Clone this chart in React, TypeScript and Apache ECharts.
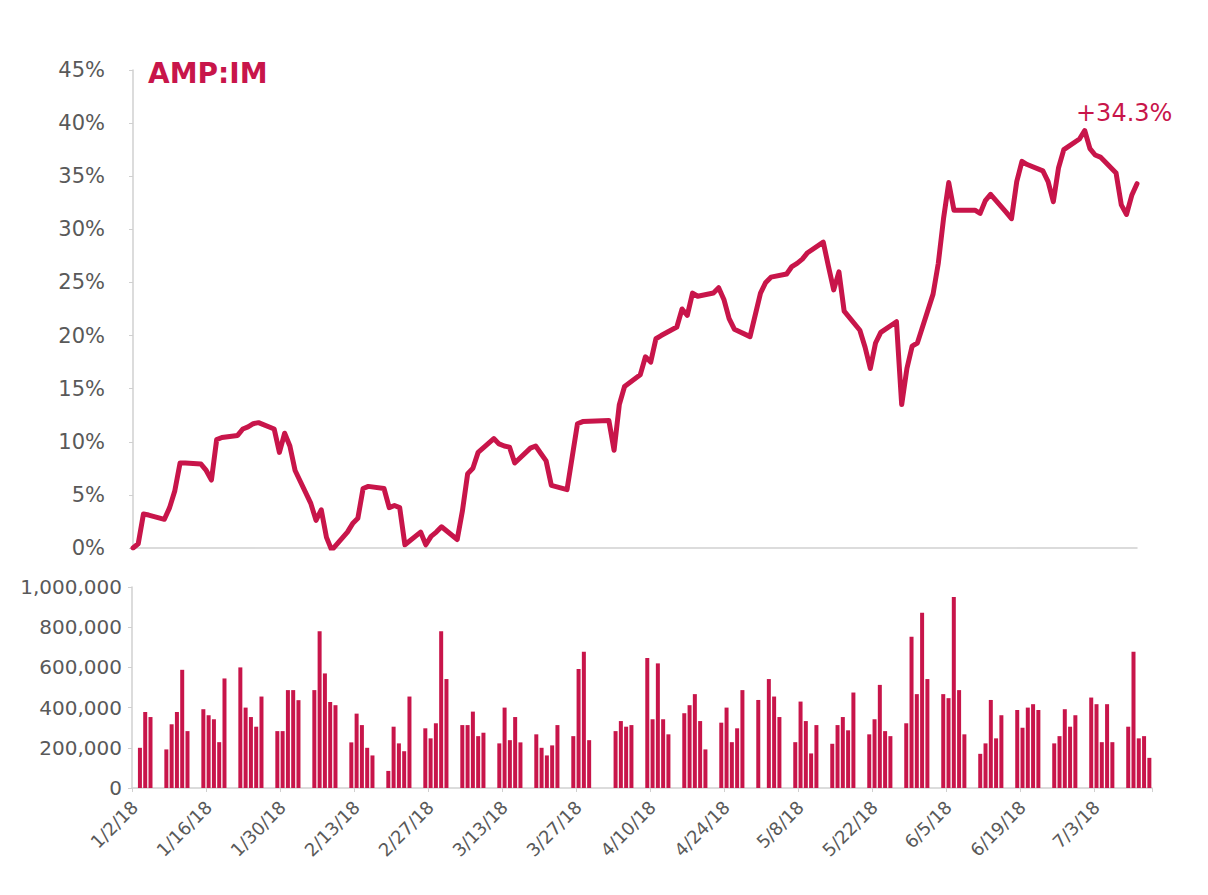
import React, { useEffect, useRef } from "react";
import * as echarts from "echarts";

// Trading days (2018), cumulative return (%) and traded volume
const tradingDates = [
  "1/2/18","1/3/18","1/4/18","1/5/18",
  "1/8/18","1/9/18","1/10/18","1/11/18","1/12/18",
  "1/15/18","1/16/18","1/17/18","1/18/18","1/19/18",
  "1/22/18","1/23/18","1/24/18","1/25/18","1/26/18",
  "1/29/18","1/30/18","1/31/18","2/1/18","2/2/18",
  "2/5/18","2/6/18","2/7/18","2/8/18","2/9/18",
  "2/12/18","2/13/18","2/14/18","2/15/18","2/16/18",
  "2/19/18","2/20/18","2/21/18","2/22/18","2/23/18",
  "2/26/18","2/27/18","2/28/18","3/1/18","3/2/18",
  "3/5/18","3/6/18","3/7/18","3/8/18","3/9/18",
  "3/12/18","3/13/18","3/14/18","3/15/18","3/16/18",
  "3/19/18","3/20/18","3/21/18","3/22/18","3/23/18",
  "3/26/18","3/27/18","3/28/18","3/29/18",
  "4/3/18","4/4/18","4/5/18","4/6/18",
  "4/9/18","4/10/18","4/11/18","4/12/18","4/13/18",
  "4/16/18","4/17/18","4/18/18","4/19/18","4/20/18",
  "4/23/18","4/24/18","4/25/18","4/26/18","4/27/18",
  "4/30/18","5/2/18","5/3/18","5/4/18",
  "5/7/18","5/8/18","5/9/18","5/10/18","5/11/18",
  "5/14/18","5/15/18","5/16/18","5/17/18","5/18/18",
  "5/21/18","5/22/18","5/23/18","5/24/18","5/25/18",
  "5/28/18","5/29/18","5/30/18","5/31/18","6/1/18",
  "6/4/18","6/5/18","6/6/18","6/7/18","6/8/18",
  "6/11/18","6/12/18","6/13/18","6/14/18","6/15/18",
  "6/18/18","6/19/18","6/20/18","6/21/18","6/22/18",
  "6/25/18","6/26/18","6/27/18","6/28/18","6/29/18",
  "7/2/18","7/3/18","7/4/18","7/5/18","7/6/18",
  "7/9/18","7/10/18","7/11/18","7/12/18","7/13/18",
];

const returnsPct = [
  0, 0.4, 3.2, 3.1,
  2.7, 3.8, 5.4, 8.0, 8.0,
  7.9, 7.3, 6.4, 10.2, 10.4,
  10.6, 11.2, 11.4, 11.7, 11.8,
  11.2, 9.0, 10.8, 9.6, 7.3,
  4.2, 2.6, 3.6, 1.0, -0.2,
  1.5, 2.3, 2.8, 5.6, 5.8,
  5.6, 3.8, 4.0, 3.8, 0.3,
  1.5, 0.3, 1.1, 1.5, 2.0,
  0.8, 3.5, 7.0, 7.5, 9.0,
  10.3, 9.8, 9.6, 9.5, 8.0,
  9.4, 9.6, 8.9, 8.2, 5.9,
  5.5, 8.6, 11.7, 11.9,
  12.0, 9.2, 13.5, 15.2,
  16.3, 18.0, 17.5, 19.7, 20.0,
  20.8, 22.5, 21.9, 24.0, 23.7,
  24.0, 24.5, 23.4, 21.6, 20.6,
  19.9, 24.0, 25.0, 25.5,
  25.8, 26.5, 26.8, 27.2, 27.8,
  28.8, 26.5, 24.3, 26.0, 22.3,
  20.5, 18.9, 16.9, 19.3, 20.3,
  21.3, 13.5, 16.9, 19.0, 19.3,
  23.9, 26.8, 31.0, 34.4, 31.8,
  31.8, 31.8, 31.5, 32.7, 33.3,
  31.6, 31.0, 34.5, 36.4, 36.1,
  35.5, 34.5, 32.6, 35.8, 37.5,
  38.5, 39.3, 37.6, 37.0, 36.8,
  35.3, 32.3, 31.4, 33.2, 34.3,
];

const volumes = [
  null, 200000, 378000, 353000,
  192000, 317000, 378000, 588000, 283000,
  392000, 362000, 342000, 228000, 545000,
  600000, 400000, 353000, 305000, 455000,
  283000, 283000, 487000, 487000, 437000,
  487000, 780000, 570000, 428000, 412000,
  227000, 370000, 313000, 200000, 162000,
  85000, 305000, 222000, 183000, 455000,
  297000, 247000, 322000, 780000, 542000,
  313000, 313000, 380000, 258000, 275000,
  222000, 400000, 238000, 353000, 227000,
  267000, 200000, 162000, 212000, 313000,
  258000, 592000, 678000, 238000,
  283000, 333000, 305000, 313000,
  647000, 342000, 620000, 342000, 267000,
  372000, 412000, 467000, 333000, 192000,
  325000, 400000, 228000, 297000, 487000,
  438000, 542000, 455000, 353000,
  228000, 430000, 333000, 172000, 313000,
  220000, 313000, 353000, 287000, 475000,
  267000, 342000, 513000, 283000, 258000,
  322000, 753000, 467000, 872000, 542000,
  467000, 447000, 950000, 487000, 267000,
  170000, 222000, 438000, 247000, 362000,
  388000, 300000, 400000, 417000, 388000,
  222000, 258000, 392000, 305000, 362000,
  450000, 417000, 228000, 417000, 228000,
  305000, 678000, 247000, 258000, 150000,
];

const tickerTitle = "AMP:IM";
const finalLabel = "+34.3%";
const firstDay = "1/2/18";
const lastDay = "7/13/18";

const RED = "#c8154a";
const GREY_TEXT = "#595959";
const AXIS_GREY = "#d0d0d0";

function parseMDY(s: string) {
  const [m, d, y] = s.split("/").map(Number);
  return new Date(Date.UTC(2000 + y, m - 1, d));
}
function fmt(dt: Date) {
  return `${dt.getUTCMonth() + 1}/${dt.getUTCDate()}/${String(dt.getUTCFullYear()).slice(2)}`;
}

// calendar-day axis (like a date axis)
function buildCalendar() {
  const out: string[] = [];
  const end = parseMDY(lastDay).getTime();
  for (let t = parseMDY(firstDay).getTime(); t <= end; t += 86400000) out.push(fmt(new Date(t)));
  return out;
}

export default function App() {
  const ref = useRef<HTMLDivElement>(null);
  useEffect(() => {
    if (!ref.current) return;
    const chart = echarts.init(ref.current, null, { renderer: "svg" });
    const days = buildCalendar();
    const retMap = new Map<string, number>();
    const volMap = new Map<string, number | null>();
    tradingDates.forEach((d, i) => {
      retMap.set(d, returnsPct[i]);
      volMap.set(d, volumes[i]);
    });
    const lineData = days.map((d) => (retMap.has(d) ? retMap.get(d)! : null));
    const barData = days.map((d) => (volMap.has(d) ? volMap.get(d) : null));
    const font = "DejaVu Sans";

    chart.setOption({
      animation: false,
      backgroundColor: "#ffffff",
      textStyle: { fontFamily: font },
      grid: [
        { left: 133, top: 70, width: 1004, height: 478 },
        { left: 132, top: 587, width: 1020, height: 201 },
      ],
      xAxis: [
        {
          type: "category",
          gridIndex: 0,
          data: days,
          boundaryGap: false,
          axisLine: { show: true, lineStyle: { color: AXIS_GREY, width: 1.5 } },
          axisTick: { show: false },
          axisLabel: { show: false },
          splitLine: { show: false },
        },
        {
          type: "category",
          gridIndex: 1,
          data: days,
          boundaryGap: true,
          axisLine: { show: true, lineStyle: { color: AXIS_GREY, width: 1.5 } },
          axisTick: { show: true, interval: 13, length: 4, lineStyle: { color: AXIS_GREY } },
          axisLabel: {
            interval: 13,
            rotate: 45,
            margin: 16,
            fontSize: 18,
            color: GREY_TEXT,
            fontFamily: font,
          },
          splitLine: { show: false },
        },
      ],
      yAxis: [
        {
          type: "value",
          gridIndex: 0,
          min: 0,
          max: 45,
          interval: 5,
          axisLine: { show: true, lineStyle: { color: AXIS_GREY, width: 1.5 } },
          axisTick: { show: true, length: 4, lineStyle: { color: AXIS_GREY } },
          axisLabel: {
            formatter: "{value}%",
            fontSize: 21,
            color: GREY_TEXT,
            margin: 28,
            fontFamily: font,
          },
          splitLine: { show: false },
        },
        {
          type: "value",
          gridIndex: 1,
          min: 0,
          max: 1000000,
          interval: 200000,
          axisLine: { show: true, lineStyle: { color: AXIS_GREY, width: 1.5 } },
          axisTick: { show: true, length: 4, lineStyle: { color: AXIS_GREY } },
          axisLabel: {
            formatter: (v: number) => v.toLocaleString("en-US"),
            fontSize: 20,
            color: GREY_TEXT,
            margin: 10,
            fontFamily: font,
          },
          splitLine: { show: false },
        },
      ],
      series: [
        {
          type: "line",
          xAxisIndex: 0,
          yAxisIndex: 0,
          data: lineData,
          connectNulls: true,
          showSymbol: false,
          lineStyle: { color: RED, width: 5, join: "round", cap: "round" },
          z: 3,
        },
        {
          type: "bar",
          xAxisIndex: 1,
          yAxisIndex: 1,
          data: barData,
          barWidth: 4,
          itemStyle: { color: RED },
        },
      ],
      graphic: [
        {
          type: "text",
          left: 148,
          top: 59,
          style: {
            text: tickerTitle,
            fill: RED,
            font: `bold 28px "${font}"`,
          },
        },
        {
          type: "text",
          left: 1076,
          top: 101,
          style: {
            text: finalLabel,
            fill: RED,
            font: `24px "${font}"`,
          },
        },
      ],
    });
    return () => chart.dispose();
  }, []);
  return (
    <div
      ref={ref}
      style={{ position: "fixed", left: 0, top: 0, width: 1208, height: 895, background: "#fff" }}
    />
  );
}
